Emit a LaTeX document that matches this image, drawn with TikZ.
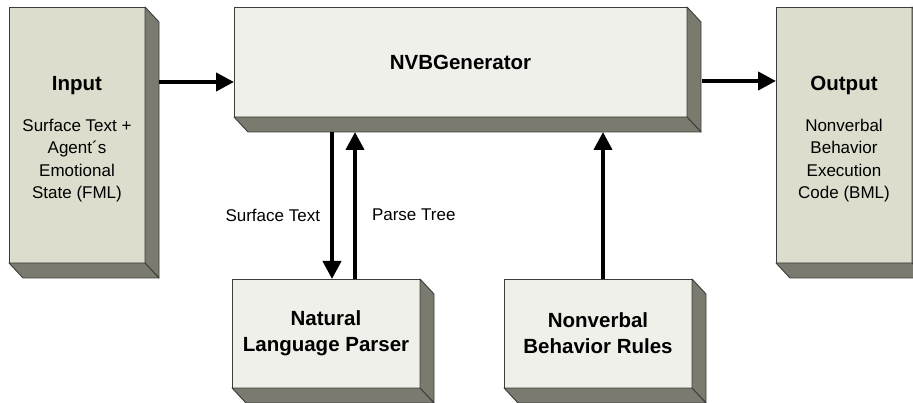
\documentclass[tikz,border=0pt]{standalone}
\usepackage{fontspec}
\setmainfont{Liberation Sans}
\usetikzlibrary{positioning, arrows.meta, calc}

\definecolor{khaki}{HTML}{DCDDCC}
\definecolor{pale}{HTML}{F0F0EA}
\definecolor{sidegray}{HTML}{7A7B6E}
\definecolor{edgegray}{HTML}{3C3C3C}

\newcommand{\titlefont}{\fontsize{20.5}{26}\selectfont\bfseries}
% shaded right and bottom faces of a block
\newcommand{\boxdepth}[1]{%
  \filldraw[face] (#1.north east) -- ++(14,15) -- ([shift={(14,15)}]#1.south east) -- (#1.south east) -- cycle;
  \filldraw[face] (#1.south west) -- ++(14,15) -- ([shift={(14,15)}]#1.south east) -- (#1.south east) -- cycle;}

\tikzset{
  block/.style={rectangle, draw=edgegray, line width=0.9pt, outer sep=0pt, align=center,
    font=\fontsize{17}{22.3}\selectfont},
  face/.style={fill=sidegray, draw=edgegray, line width=0.9pt, line join=round},
  flow/.style={line width=4pt, -{Triangle[length=18pt,width=18pt]}},
  lbl/.style={inner sep=0pt, font=\fontsize{17}{20}\selectfont}
}

\begin{document}
\begin{tikzpicture}[x=1pt, y=-1pt]
	\useasboundingbox (0,0) rectangle (913,403);

	\node[block, fill=khaki, minimum width=136pt, minimum height=256pt] (input) at (77,135)
		{{\titlefont\rule{0pt}{22pt}Input}\\[19pt] Surface Text +\\ Agent´s\\ Emotional\\ State (FML)};
	\node[block, fill=pale, minimum width=453pt, minimum height=110pt] (nvb) at (460.5,62)
		{\titlefont NVBGenerator};
	\node[block, fill=khaki, minimum width=136pt, minimum height=256pt] (output) at (844,135)
		{{\titlefont\rule{0pt}{22pt}Output}\\[19pt] Nonverbal\\ Behavior\\ Execution\\ Code (BML)};
	\node[block, fill=pale, minimum width=188pt, minimum height=109pt] (parser) at (326,333.5)
		{\titlefont Natural\\[4pt] \titlefont Language Parser};
	\node[block, fill=pale, minimum width=188pt, minimum height=109pt] (rules) at (598,333.5)
		{\titlefont Nonverbal\\[4pt] \titlefont Behavior Rules};

	\boxdepth{input}
	\boxdepth{nvb}
	\boxdepth{output}
	\boxdepth{parser}
	\boxdepth{rules}

	\coordinate (inport) at ($(input.north east)+(14,75)$);
	\coordinate (outport) at ($(nvb.north east)+(15,74)$);
	\coordinate (nvbbase) at ($(nvb.south)+(0,15)$);

	\draw[flow] (inport) -- (inport -| nvb.west);
	\draw[flow] (outport) -- (outport -| output.west);
	\draw[flow] ([xshift=6pt]parser.north |- nvbbase) -- node[pos=.565, left=10pt, lbl] {Surface Text} ([xshift=6pt]parser.north);
	\draw[flow] ([xshift=29pt]parser.north) -- node[pos=.435, right=15pt, lbl] {Parse Tree} ([xshift=29pt]parser.north |- nvbbase);
	\draw[flow] ([xshift=5pt]rules.north) -- ([xshift=5pt]rules.north |- nvbbase);
\end{tikzpicture}
\end{document}
